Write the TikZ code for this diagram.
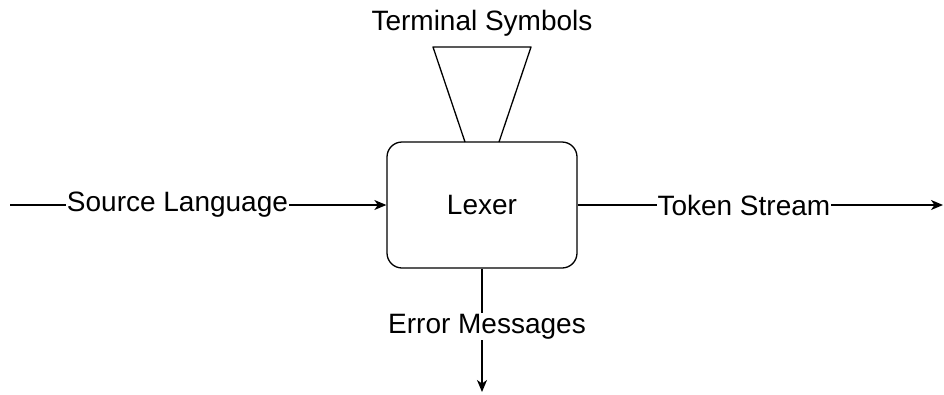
\documentclass[tikz,border=0pt]{standalone}
\usepackage{fontspec}
\setmainfont{Liberation Sans}
\usetikzlibrary{arrows.meta}
\begin{document}
\begin{tikzpicture}[x=1pt, y=-1pt, line width=1.3pt,
  every node/.style={font=\fontsize{28}{33}\selectfont},
  flow/.style={-{Stealth[length=12pt, width=10pt, inset=3.5pt]}},
  lbl/.style={fill=white, inner sep=1pt}]
\useasboundingbox (0,0) rectangle (944,394);
\node[draw, rounded corners=15pt, minimum width=190pt, minimum height=126pt, inner sep=0pt] (lexer) at (482,205) {Lexer};
\coordinate (src) at (10,205);
\coordinate (tok) at (943,205);
\coordinate (err) at (482,392);
% hopper feeding the lexer
\coordinate (hl) at (465,142);
\coordinate (hr) at (499,142);
\draw[line join=round] (hl) -- (433,47) -- (531,47) -- (hr);
\node (term) at (482,23) {Terminal Symbols};
\draw[flow] (src) -- node[lbl, pos=0.445] (srclbl) {Source Language} (lexer);
\draw[flow] (lexer) -- node[lbl, pos=0.455] (toklbl) {Token Stream} (tok);
\draw[flow] (lexer) -- node[lbl, pos=0.47, xshift=5pt] (errlbl) {Error Messages} (err);
\end{tikzpicture}
\end{document}
